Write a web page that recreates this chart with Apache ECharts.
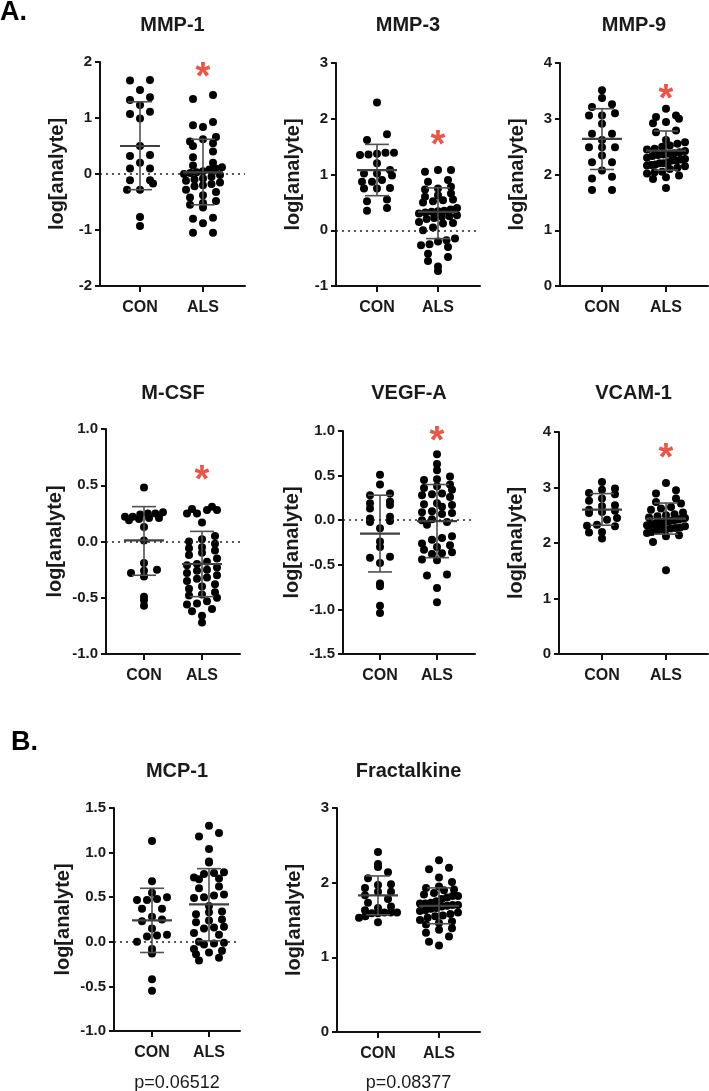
<!DOCTYPE html>
<html><head><meta charset="utf-8">
<script src="https://cdn.jsdelivr.net/npm/echarts@6/dist/echarts.min.js"></script>
<style>html,body{margin:0;padding:0;background:#fff}#c{width:709px;height:1091px}</style>
</head><body><div id="c"></div>
<script>
// ---------- DATA ----------
const groups = ['CON', 'ALS'];
const yAxisName = 'log[analyte]';

const mmp1Con = [1.68,1.67,1.50,1.37,1.32,1.23,1.11,1.07,0.99,0.50,0.34,0.32,0.20,0.10,0.10,-0.11,-0.11,-0.17,-0.28,-0.28,-0.77,-0.93];
const mmp1Als = [1.41,1.34,0.93,0.87,0.84,0.66,0.62,0.58,0.55,0.50,0.40,0.30,0.20,0.15,0.12,0.10,0.08,0.05,0.03,0.02,0.00,-0.02,-0.05,-0.08,-0.10,-0.12,-0.15,-0.18,-0.20,-0.22,-0.28,-0.32,-0.38,-0.42,-0.48,-0.52,-0.55,-0.60,-0.78,-0.80,-0.88,-1.05,-1.05];
const mmp3Con = [2.29,1.72,1.62,1.39,1.39,1.37,1.36,1.35,1.20,1.08,1.02,1.02,0.98,0.90,0.87,0.87,0.76,0.75,0.75,0.55,0.52,0.40,0.35];
const mmp3Als = [1.08,1.08,1.05,0.90,0.87,0.78,0.75,0.73,0.66,0.63,0.60,0.55,0.54,0.52,0.50,0.40,0.37,0.35,0.34,0.33,0.32,0.30,0.27,0.25,0.24,0.22,0.20,0.15,0.13,0.12,0.05,0.00,-0.15,-0.18,-0.20,-0.25,-0.27,-0.30,-0.42,-0.48,-0.55,-0.65,-0.73];
const mmp9Con = [3.51,3.37,3.26,3.21,3.10,3.06,3.06,2.91,2.73,2.73,2.62,2.49,2.49,2.49,2.34,2.22,2.22,2.07,1.96,1.93,1.72,1.72];
const mmp9Als = [3.18,3.06,3.03,3.00,2.94,2.92,2.79,2.76,2.62,2.58,2.55,2.52,2.50,2.46,2.45,2.42,2.40,2.38,2.37,2.36,2.35,2.33,2.30,2.28,2.27,2.25,2.25,2.22,2.20,2.20,2.18,2.17,2.16,2.15,2.12,2.10,2.05,2.04,2.02,1.98,1.95,1.92,1.76];
const mcsfCon = [0.48,0.26,0.25,0.25,0.24,0.22,0.22,0.21,0.21,0.20,0.19,0.13,0.01,-0.19,-0.25,-0.26,-0.28,-0.31,-0.49,-0.52,-0.57];
const mcsfAls = [0.31,0.29,0.28,0.28,0.25,0.25,0.17,0.05,0.02,0.00,-0.02,-0.05,-0.06,-0.08,-0.10,-0.12,-0.15,-0.18,-0.20,-0.21,-0.23,-0.25,-0.26,-0.28,-0.30,-0.32,-0.33,-0.35,-0.38,-0.40,-0.42,-0.45,-0.47,-0.48,-0.50,-0.53,-0.55,-0.56,-0.60,-0.62,-0.66,-0.72];
const vegfCon = [0.51,0.40,0.30,0.28,0.21,0.19,0.17,0.13,0.04,0.02,-0.01,-0.02,-0.09,-0.24,-0.30,-0.41,-0.42,-0.48,-0.71,-0.74,-0.96,-1.04];
const vegfAls = [0.74,0.63,0.56,0.49,0.46,0.45,0.40,0.38,0.36,0.34,0.30,0.29,0.28,0.26,0.19,0.18,0.17,0.15,0.10,0.09,0.08,0.07,0.01,0.00,-0.02,-0.05,-0.18,-0.20,-0.22,-0.26,-0.28,-0.30,-0.33,-0.36,-0.37,-0.38,-0.44,-0.45,-0.61,-0.62,-0.76,-0.92];
const vcamCon = [3.10,2.98,2.96,2.90,2.88,2.80,2.76,2.68,2.66,2.60,2.58,2.56,2.54,2.45,2.42,2.33,2.31,2.30,2.20,2.19,2.08];
const vcamAls = [3.08,2.95,2.89,2.80,2.74,2.71,2.65,2.62,2.60,2.55,2.52,2.50,2.48,2.46,2.45,2.44,2.43,2.42,2.41,2.40,2.39,2.38,2.37,2.36,2.35,2.34,2.33,2.32,2.30,2.28,2.27,2.26,2.25,2.24,2.22,2.20,2.18,2.14,2.12,2.02,1.51];
const mcp1Con = [1.13,0.68,0.55,0.50,0.48,0.47,0.47,0.37,0.37,0.28,0.25,0.23,0.15,0.08,0.07,0.06,0.00,-0.08,-0.13,-0.42,-0.55];
const mcp1Als = [1.30,1.22,1.18,1.04,0.90,0.89,0.78,0.77,0.76,0.72,0.71,0.70,0.62,0.60,0.53,0.52,0.50,0.49,0.40,0.34,0.33,0.31,0.25,0.24,0.22,0.17,0.16,0.15,0.10,0.08,0.00,-0.01,-0.02,-0.03,-0.08,-0.10,-0.12,-0.14,-0.18,-0.21];
const fracCon = [2.41,2.25,2.21,2.14,2.06,1.98,1.97,1.93,1.88,1.88,1.83,1.78,1.73,1.68,1.66,1.63,1.60,1.60,1.60,1.59,1.59,1.55,1.53,1.47];
const fracAls = [2.30,2.20,2.18,2.07,2.01,1.95,1.93,1.91,1.90,1.86,1.84,1.82,1.82,1.80,1.78,1.75,1.73,1.72,1.72,1.70,1.70,1.69,1.68,1.66,1.65,1.63,1.62,1.60,1.58,1.56,1.55,1.53,1.50,1.48,1.46,1.44,1.39,1.37,1.33,1.28,1.21,1.16];

// mean, SD low, SD high
const mmp1Stats = [[0.50,-0.28,1.29],[0.03,-0.55,0.62]];
const mmp3Stats = [[1.08,0.62,1.54],[0.33,-0.15,0.76]];
const mmp9Stats = [[2.64,2.09,3.18],[2.43,2.08,2.78]];
const mcsfStats = [[0.01,-0.30,0.31],[-0.20,-0.49,0.09]];
const vegfStats = [[-0.15,-0.58,0.28],[-0.01,-0.42,0.40]];
const vcamStats = [[2.60,2.32,2.89],[2.44,2.16,2.72]];
const mcp1Stats = [[0.24,-0.12,0.60],[0.42,0.01,0.82]];
const fracStats = [[1.83,1.57,2.09],[1.69,1.45,1.93]];

const panelTitles = ['MMP-1','MMP-3','MMP-9','M-CSF','VEGF-A','VCAM-1','MCP-1','Fractalkine'];
const starValues = [1.86, 1.67, 3.48, 0.61, 0.97, 3.66, null, null];
const pTexts = [null,null,null,null,null,null,'p=0.06512','p=0.08377'];
const yRanges = [[-2,2,1],[-1,3,1],[0,4,1],[-1,1,0.5],[-1.5,1,0.5],[0,4,1],[-1,1.5,0.5],[0,3,1]];
const sectionLabels = ['A.','B.'];

const panelData = [
  [mmp1Con, mmp1Als, mmp1Stats],[mmp3Con, mmp3Als, mmp3Stats],[mmp9Con, mmp9Als, mmp9Stats],
  [mcsfCon, mcsfAls, mcsfStats],[vegfCon, vegfAls, vegfStats],[vcamCon, vcamAls, vcamStats],
  [mcp1Con, mcp1Als, mcp1Stats],[fracCon, fracAls, fracStats]
];

// ---------- LAYOUT ----------
const layout = [
  {left:100, top:62,  h:224, w:145, con:40, als:103, gap:33, ty:25},
  {left:336, top:63,  h:223, w:144, con:41, als:102, gap:33, ty:25},
  {left:560, top:63,  h:223, w:148, con:42, als:106, gap:33, ty:25},
  {left:106, top:429, h:225, w:134, con:38, als:96,  gap:41, ty:393},
  {left:343, top:431, h:223, w:132, con:37, als:94,  gap:41, ty:393},
  {left:559, top:432, h:222, w:149, con:43, als:107, gap:33, ty:393},
  {left:114, top:808, h:223, w:126, con:38, als:95,  gap:41, ty:771},
  {left:337, top:808, h:224, w:143, con:41, als:102, gap:33, ty:771}
];
const FONT = '"Liberation Sans", Arial, Helvetica, sans-serif';
const TXT = '#1a1a1a';

// Beeswarm-like horizontal spreading (layout only)
function swarm(values, center, pxPerY, pxPerX) {
  const binH = 8;
  const bins = {};
  values.forEach((v, i) => {
    const b = Math.floor(v * pxPerY / binH);
    (bins[b] = bins[b] || []).push(i);
  });
  const out = new Array(values.length);
  Object.values(bins).forEach(idx => {
    idx.sort((a, b) => values[a] - values[b]);
    const n = idx.length;
    let half = n === 1 ? 0 : n === 2 ? 10 : Math.min(19, 13 + (n - 3) * 2);
    const sp = n > 1 ? 2 * half / (n - 1) : 0;
    idx.forEach((id, k) => {
      const off = -half + k * sp;
      out[id] = [center + off / pxPerX, values[id]];
    });
  });
  return out;
}

const grid = [], xAxis = [], yAxis = [], series = [], graphic = [];

layout.forEach((L, i) => {
  const [ymin, ymax, yint] = yRanges[i];
  const [conV, alsV, stats] = panelData[i];
  const unit = L.als - L.con;
  const xmin = 1 - L.con / unit;
  const xmax = xmin + L.w / unit;
  const pxPerY = L.h / (ymax - ymin);
  const dec = yint < 1 ? 1 : 0;

  grid.push({left: L.left, top: L.top, width: L.w, height: L.h});
  xAxis.push({
    gridIndex: i, type: 'value', min: xmin, max: xmax,
    splitLine: {show: false},
    axisLine: {show: true, onZero: false, lineStyle: {color: '#111', width: 2}},
    axisTick: {show: true, customValues: [1, 2], length: 6, lineStyle: {color: '#111', width: 2}},
    axisLabel: {customValues: [1, 2], formatter: v => groups[Math.round(v) - 1] || '',
      margin: 14, fontSize: 16, fontWeight: 'bold', color: TXT, fontFamily: FONT}
  });
  yAxis.push({
    gridIndex: i, type: 'value', min: ymin, max: ymax, interval: yint,
    splitLine: {show: false},
    axisLine: {show: true, onZero: false, lineStyle: {color: '#111', width: 2}},
    axisTick: {show: true, length: 5, lineStyle: {color: '#111', width: 2}},
    axisLabel: {formatter: v => v.toFixed(dec), margin: 8, fontSize: 15, fontWeight: 'bold', color: TXT, fontFamily: FONT},
    name: yAxisName, nameLocation: 'middle', nameGap: L.gap,
    nameTextStyle: {fontSize: 20, fontWeight: 'bold', color: TXT, fontFamily: FONT}
  });

  const pts = swarm(conV, 1, pxPerY, unit).concat(swarm(alsV, 2, pxPerY, unit));
  const dots = {
    type: 'scatter', xAxisIndex: i, yAxisIndex: i, data: pts, symbolSize: 8,
    itemStyle: {color: '#000', opacity: 1}, z: 2, silent: true
  };
  if (ymin < 0 && ymax > 0) {
    dots.markLine = {silent: true, symbol: ['none', 'none'], label: {show: false},
      lineStyle: {type: [2, 4], color: '#222', width: 1.6}, data: [{yAxis: 0}]};
  }
  series.push(dots);

  series.push({
    type: 'custom', xAxisIndex: i, yAxisIndex: i, z: 3, silent: true,
    data: [[1].concat(stats[0]), [2].concat(stats[1])],
    encode: {x: 0, y: [1, 2, 3]},
    renderItem: (params, api) => {
      const x = api.value(0);
      const pm = api.coord([x, api.value(1)]);
      const pl = api.coord([x, api.value(2)]);
      const ph = api.coord([x, api.value(3)]);
      const st = {stroke: '#505050', lineWidth: 1.6};
      return {type: 'group', children: [
        {type: 'line', shape: {x1: pl[0], y1: pl[1], x2: ph[0], y2: ph[1]}, style: st},
        {type: 'line', shape: {x1: pl[0] - 12, y1: pl[1], x2: pl[0] + 12, y2: pl[1]}, style: st},
        {type: 'line', shape: {x1: ph[0] - 12, y1: ph[1], x2: ph[0] + 12, y2: ph[1]}, style: st},
        {type: 'line', shape: {x1: pm[0] - 20, y1: pm[1], x2: pm[0] + 20, y2: pm[1]}, style: {stroke: '#404040', lineWidth: 2.2}}
      ]};
    }
  });

  if (starValues[i] != null) {
    series.push({
      type: 'scatter', xAxisIndex: i, yAxisIndex: i, data: [[2, starValues[i]]],
      symbolSize: 1, itemStyle: {color: 'rgba(0,0,0,0)'}, z: 4, silent: true,
      label: {show: true, position: 'inside', formatter: '*', color: '#e52b1a',
        fontSize: 38, fontWeight: 'bold', fontFamily: FONT, offset: [0, 9]}
    });
  }

  graphic.push({type: 'text', x: L.left + L.w / 2, y: L.ty,
    style: {text: panelTitles[i], align: 'center', verticalAlign: 'middle',
      fontSize: 20, fontWeight: 'bold', fontFamily: FONT, fill: TXT}});
  if (pTexts[i]) {
    graphic.push({type: 'text', x: L.left + L.w / 2, y: 1083,
      style: {text: pTexts[i], align: 'center', verticalAlign: 'middle',
        fontSize: 18, fontFamily: FONT, fill: TXT}});
  }
});

graphic.push({type: 'text', x: 0, y: 13, style: {text: sectionLabels[0], align: 'left', verticalAlign: 'middle', fontSize: 27, fontWeight: 'bold', fontFamily: FONT, fill: '#000'}});
graphic.push({type: 'text', x: 11, y: 743, style: {text: sectionLabels[1], align: 'left', verticalAlign: 'middle', fontSize: 27, fontWeight: 'bold', fontFamily: FONT, fill: '#000'}});

const chart = echarts.init(document.getElementById('c'), null, {renderer: 'canvas'});
chart.setOption({animation: false, backgroundColor: '#fff', grid, xAxis, yAxis, series, graphic});
</script>
</body></html>
